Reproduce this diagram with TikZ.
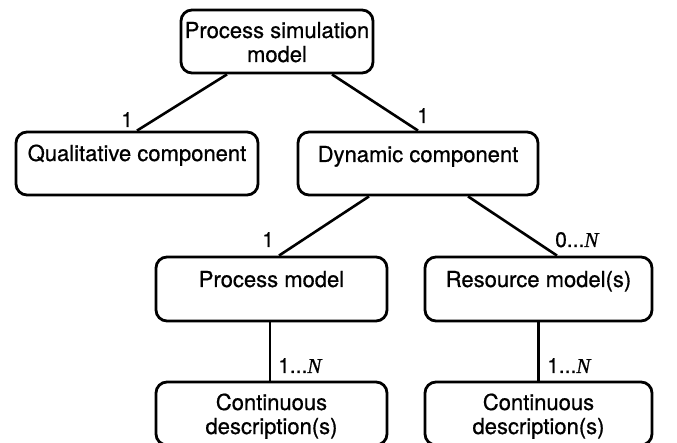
\documentclass[tikz,border=0pt]{standalone}
\usepackage{fontspec}
\setmainfont{TeX Gyre Heros}[FakeBold=0.7]
\newfontfamily\nfont{Liberation Serif}[FakeBold=0.7]
\usetikzlibrary{calc}
\newcommand{\itN}{{\nfont\itshape N}}
\begin{document}
\begin{tikzpicture}[x=1pt,y=-1pt,
  box/.style={draw, line width=2.8pt, rounded corners=11pt, inner sep=0pt},
  txt/.style={inner sep=0pt, anchor=base, font=\fontsize{22}{24}\selectfont},
  mult/.style={inner sep=0pt, anchor=base west, font=\fontsize{21}{24}\selectfont},
  link/.style={line width=2.6pt}]
\clip (0,0) rectangle (677,443);

% boxes
\node[box, minimum width=192pt, minimum height=63pt] (top)   at (277,41.5)  {};
\node[box, minimum width=242pt, minimum height=63pt] (qual)  at (137,163.5) {};
\node[box, minimum width=240pt, minimum height=63pt] (dyn)   at (418,163.5) {};
\node[box, minimum width=231pt, minimum height=64pt] (proc)  at (271.5,289) {};
\node[box, minimum width=227pt, minimum height=64pt] (res)   at (538.5,289) {};
\node[box, minimum width=231pt, minimum height=63pt] (contA) at (271.5,413.5) {};
\node[box, minimum width=227pt, minimum height=63pt] (contB) at (538.5,413.5) {};

% box texts
\node[txt] (topA)  at (277,38)   {Process simulation};
\node[txt] (topB)  at (277,62)   {model};
\node[txt] (qualT) at (137,161)  {Qualitative component};
\node[txt] (dynT)  at (418,162)  {Dynamic component};
\node[txt] (procT) at (271.5,287) {Process model};
\node[txt] (resT)  at (538.5,287) {Resource model(s)};
\node[txt] (contA1) at (271.5,410) {Continuous};
\node[txt] (contA2) at (271.5,434) {description(s)};
\node[txt] (contB1) at (538.5,410) {Continuous};
\node[txt] (contB2) at (538.5,434) {description(s)};

% connectors
\draw[link] ($(top.south)+(-50,0)$) -- (qual.north);
\draw[link] ($(top.south)+(55,0)$) -- (dyn.north);
\draw[link] ($(dyn.south)+(-49,0)$) -- ($(proc.north)+(7.5,0)$);
\draw[link] ($(dyn.south)+(50,0)$) -- ($(res.north)+(18.5,0)$);
\draw[link] ($(proc.south)+(-1.5,0)$) -- ($(contA.north)+(-1.5,0)$);
\draw[link] (res.south) -- (contB.north);

% multiplicities
\node[mult] (m1) at (121,127) {1};
\node[mult] (m2) at (417,123) {1};
\node[mult] (m3) at (262,247) {1};
\node[mult] (m4) at (555,247) {0...\itN};
\node[mult] (m5) at (278,373) {1...\itN};
\node[mult] (m6) at (547,373) {1...\itN};
\end{tikzpicture}
\end{document}
